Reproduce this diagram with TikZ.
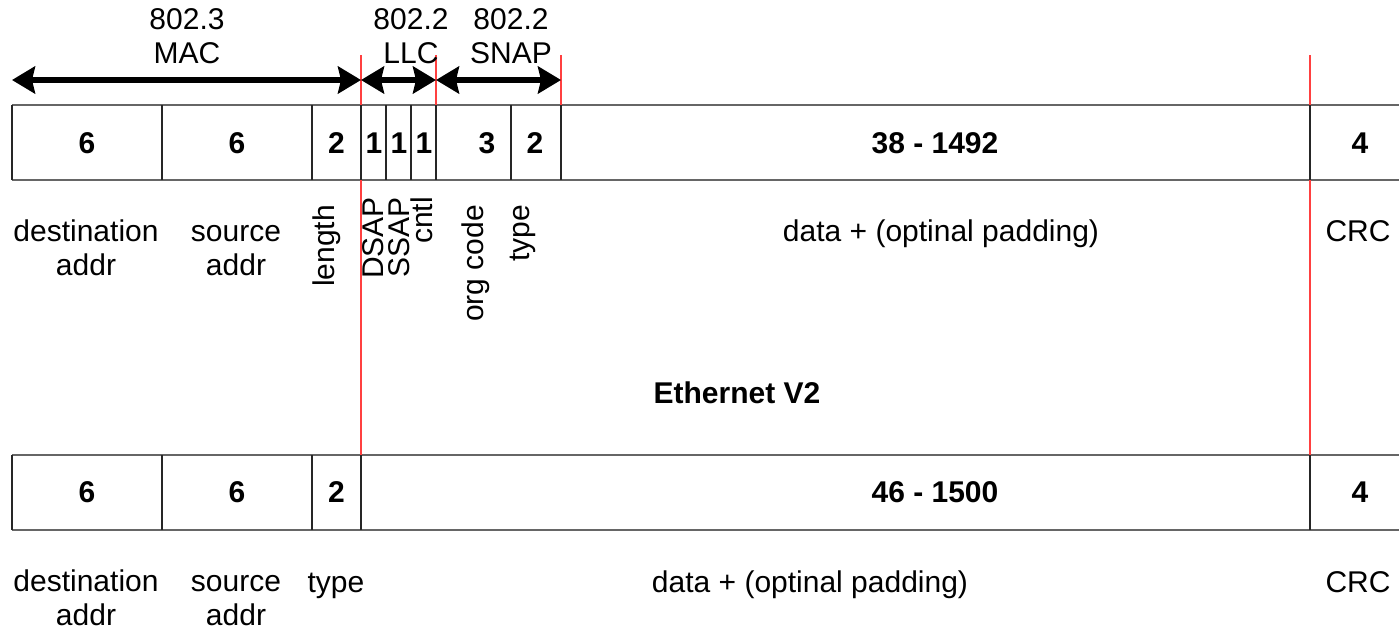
\documentclass[tikz,border=0pt]{standalone}
\usepackage{fontspec}
\setmainfont{Liberation Sans}
\usetikzlibrary{arrows.meta}
\begin{document}
\begin{tikzpicture}[x=1pt,y=-1pt,
  num/.style={font=\fontsize{30}{33.5}\selectfont\bfseries, inner sep=0pt, anchor=base},
  lbl/.style={font=\fontsize{30}{33.5}\selectfont, inner sep=0pt, anchor=base, align=center},
  vlbl/.style={font=\fontsize{30}{33.5}\selectfont, inner sep=0pt, anchor=base east, rotate=90},
  hline/.style={draw=black!60, line width=2pt},
  sepline/.style={draw=black!85, line width=1.1pt},
  redline/.style={draw=red!75!white, line width=1.3pt},
  spanarrow/.style={line width=6pt, {Stealth[length=23pt,width=27pt,inset=3pt]}-{Stealth[length=23pt,width=27pt,inset=3pt]}}]
\useasboundingbox (0,0) rectangle (1399,630);

% ---------- top frame lines ----------
\coordinate (tl) at (12,105);  \coordinate (tr) at (1399,105);
\coordinate (bl) at (12,180);  \coordinate (br) at (1399,180);
\draw[hline] (tl) -- (tr);
\draw[hline] (bl) -- (br);
\foreach \x in {12,162,312,361,386,411,436,511,561,1310}{
  \draw[sepline] (\x,105) -- (\x,180);
}

% ---------- bottom frame lines ----------
\coordinate (tl2) at (12,455);  \coordinate (tr2) at (1399,455);
\coordinate (bl2) at (12,530);  \coordinate (br2) at (1399,530);
\draw[hline] (tl2) -- (tr2);
\draw[hline] (bl2) -- (br2);
\foreach \x in {12,162,312,361,1310}{
  \draw[sepline] (\x,455) -- (\x,530);
}

% ---------- red guide lines ----------
\coordinate (ra1) at (361,55);  \coordinate (rb1) at (361,455);
\coordinate (ra2) at (436,55);  \coordinate (rb2) at (436,105);
\coordinate (ra3) at (561,55);  \coordinate (rb3) at (561,105);
\coordinate (ra4) at (1310,55); \coordinate (rb4) at (1310,455);
\draw[redline] (ra1) -- (361,105);
\draw[redline] (361,180) -- (rb1);
\draw[redline] (ra2) -- (rb2);
\draw[redline] (ra3) -- (rb3);
\draw[redline] (ra4) -- (1310,105);
\draw[redline] (1310,180) -- (rb4);

% ---------- span arrows ----------
\coordinate (s0) at (12,80);
\coordinate (s1) at (361,80);
\coordinate (s2) at (436,80);
\coordinate (s3) at (561,80);
\draw[spanarrow] (s0) -- (s1);
\draw[spanarrow] (s1) -- (s2);
\draw[spanarrow] (s2) -- (s3);

\node[lbl] (mac) at (187,63) {802.3\\MAC};
\node[lbl] (llc) at (411,63) {802.2\\LLC};
\node[lbl] (snap) at (511,63) {802.2\\SNAP};

% ---------- top row numbers ----------
\node[num] (t1) at (87,153) {6};
\node[num] (t2) at (237,153) {6};
\node[num] (t3) at (336.5,153) {2};
\node[num] (t4) at (374,153) {1};
\node[num] (t5) at (399,153) {1};
\node[num] (t6) at (424,153) {1};
\node[num] (t7) at (487,153) {3};
\node[num] (t8) at (535,153) {2};
\node[num] (t9) at (935,153) {38 - 1492};
\node[num] (t10) at (1360,153) {4};

% ---------- top row labels ----------
\node[lbl] (l1) at (86,275) {destination\\addr};
\node[lbl] (l2) at (236,275) {source\\addr};
\node[vlbl] (l3) at (334,205) {length};
\node[vlbl] (l4) at (383,197) {DSAP};
\node[vlbl] (l5) at (409,197) {SSAP};
\node[vlbl] (l6) at (432,197) {cntl};
\node[vlbl] (l7) at (483,205) {org code};
\node[vlbl] (l8) at (529,205) {type};
\node[lbl] (l9) at (941,241.5) {data + (optinal padding)};
\node[lbl] (l10) at (1358,241.5) {CRC};

% ---------- title ----------
\node[num] (eth) at (737,403) {Ethernet V2};

% ---------- bottom row numbers ----------
\node[num] (b1) at (87,502) {6};
\node[num] (b2) at (237,502) {6};
\node[num] (b3) at (336.5,502) {2};
\node[num] (b4) at (935,502) {46 - 1500};
\node[num] (b5) at (1360,502) {4};

% ---------- bottom row labels ----------
\node[lbl] (m1) at (86,625) {destination\\addr};
\node[lbl] (m2) at (236,625) {source\\addr};
\node[lbl] (m3) at (336,592) {type};
\node[lbl] (m4) at (810,592) {data + (optinal padding)};
\node[lbl] (m5) at (1358,592) {CRC};
\end{tikzpicture}
\end{document}
